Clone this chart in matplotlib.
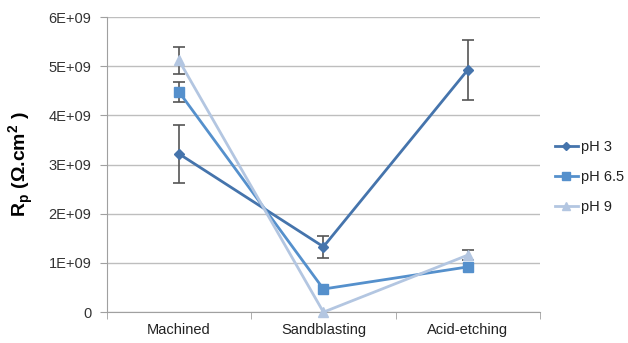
import matplotlib.pyplot as plt
from matplotlib.lines import Line2D
import numpy as np

# --- Data ---
categories = ['Machined', 'Sandblasting', 'Acid-etching']
series_names = ['pH 3', 'pH 6.5', 'pH 9']
ph3 = [3.22e9, 1.33e9, 4.93e9]
ph3_err = [0.59e9, 0.22e9, 0.61e9]
ph65 = [4.48e9, 0.47e9, 0.92e9]
ph65_err = [0.20e9, 0.0, 0.0]
ph9 = [5.12e9, 0.0, 1.16e9]
ph9_err = [0.27e9, 0.0, 0.10e9]
y_ticks = [0, 1e9, 2e9, 3e9, 4e9, 5e9, 6e9]
y_tick_labels = ['0', '1E+09', '2E+09', '3E+09', '4E+09', '5E+09', '6E+09']

colors = ['#4574AC', '#5590CC', '#B3C6E1']
markers = ['D', 's', '^']
msizes = [5, 7, 7]

plt.rcParams['font.family'] = ['Liberation Sans', 'DejaVu Sans']
plt.rcParams['mathtext.fontset'] = 'custom'
plt.rcParams['mathtext.rm'] = 'Liberation Sans:bold'

fig = plt.figure(figsize=(6.28, 3.43), dpi=100)
ax = fig.add_axes([0.170, 0.090, 0.690, 0.860])

x = np.arange(len(categories))
values = [ph3, ph65, ph9]
errors = [ph3_err, ph65_err, ph9_err]
handles = []
for vals, errs, name, c, m, ms in zip(values, errors, series_names, colors, markers, msizes):
    vals = np.array(vals)
    errs = np.array(errs)
    has_err = errs > 0
    # error bars only where there is a spread
    ax.errorbar(x[has_err], vals[has_err], yerr=errs[has_err], fmt='none', ecolor='#555555',
                elinewidth=1.2, capsize=4, capthick=1.2, zorder=2)
    ax.plot(x, vals, color=c, lw=2, marker=m, markersize=ms, zorder=3, clip_on=False)
    handles.append(Line2D([], [], color=c, lw=2, marker=m, markersize=ms - 1, label=name))

ax.set_xlim(-0.5, 2.5)
ax.set_ylim(0, 6e9)
ax.set_yticks(y_ticks)
ax.set_yticklabels(y_tick_labels)
ax.set_xticks(x)
ax.set_xticklabels(categories)
ax.set_xticks([-0.5, 0.5, 1.5, 2.5], minor=True)
ax.tick_params(axis='x', which='major', length=0, pad=8, labelsize=10.5, labelcolor='#222222')
ax.tick_params(axis='x', which='minor', length=5, color='#A0A0A0')
ax.tick_params(axis='y', length=5, color='#A0A0A0', labelsize=10.5, labelcolor='#333333', pad=6)

ax.grid(axis='y', color='#BEBEBE', lw=1)
ax.set_axisbelow(True)
for s in ['top', 'right']:
    ax.spines[s].set_visible(False)
ax.spines['left'].set_color('#A0A0A0')
ax.spines['bottom'].set_color('#A0A0A0')

ax.set_ylabel(r'R$_\mathrm{p}$ (Ω.cm$^\mathrm{2}$ )', fontsize=14, fontweight='bold',
              labelpad=9)

leg = ax.legend(handles=handles, loc='center left', bbox_to_anchor=(1.02, 0.458), frameon=False,
                fontsize=10.5, handlelength=1.6, handletextpad=0.2, labelspacing=1.1,
                borderaxespad=0.0)
for t in leg.get_texts():
    t.set_color('#222222')

fig.savefig('out.png', dpi=100)
